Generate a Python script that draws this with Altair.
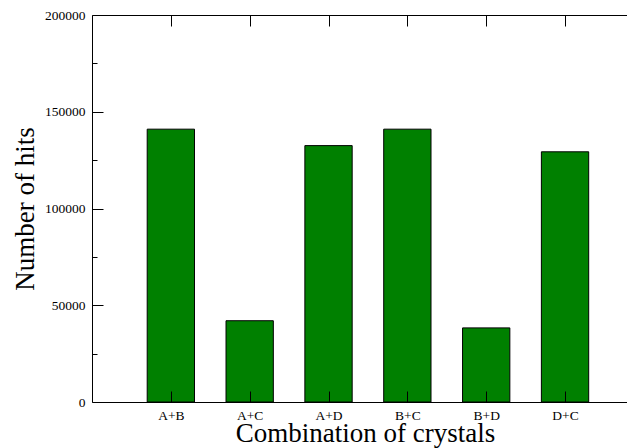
import json
import altair as alt
import pandas as pd

# ---- data ----
categories = ["A+B", "A+C", "A+D", "B+C", "B+D", "D+C"]
hits = [141000, 42000, 132500, 141000, 38300, 129300]
y_major = [0, 50000, 100000, 150000, 200000]
y_minor = [25000, 75000, 125000, 175000]
x_positions = [1, 2, 3, 4, 5, 6]

df = pd.DataFrame({"combo": categories, "hits": hits, "pos": x_positions})

FONT = "Liberation Serif"
W, H = 535, 387
SPACING = 78.84
XMAX = W / SPACING

xscale = alt.Scale(domain=[0, XMAX], nice=False, zero=False)
yscale = alt.Scale(domain=[0, 200000], nice=False, zero=True)

x_label_expr = json.dumps(categories) + "[datum.value - 1]"

base = alt.Chart(df).transform_calculate(
    x0="datum.pos - 0.3", x1="datum.pos + 0.3", base0="0"
)

bars = base.mark_bar(color="#008000", stroke="black", strokeWidth=1).encode(
    x=alt.X(
        "x0:Q",
        scale=xscale,
        axis=alt.Axis(
            orient="bottom",
            values=x_positions,
            labelExpr=x_label_expr,
            tickSize=alt.ExprRef(expr="-11"),
            tickColor="black",
            tickWidth=1,
            domainColor="black",
            domainWidth=1,
            labelFont=FONT,
            labelFontSize=13.5,
            labelColor="black",
            labelPadding=17,
            labelFlush=False,
            labelOverlap=False,
            grid=False,
            zindex=1,
            title="Combination of crystals",
            titleFont=FONT,
            titleFontSize=27,
            titleFontWeight="normal",
            titleColor="black",
            titleX=273,
            titleY=39,
            titleAlign="center",
            titleBaseline="alphabetic",
        ),
    ),
    x2="x1:Q",
    y=alt.Y(
        "hits:Q",
        scale=yscale,
        axis=alt.Axis(
            orient="left",
            values=y_major + y_minor,
            labelExpr="datum.value % 50000 === 0 ? format(datum.value, 'd') : ''",
            tickSize=alt.ExprRef(expr="datum.value % 50000 === 0 ? -11 : -5"),
            tickColor="black",
            tickWidth=1,
            domainColor="black",
            domainWidth=1,
            labelFont=FONT,
            labelFontSize=13.5,
            labelColor="black",
            labelPadding=18,
            labelFlush=False,
            labelOverlap=False,
            grid=False,
            zindex=1,
            title="Number of hits",
            titleFont=FONT,
            titleFontSize=27,
            titleFontWeight="normal",
            titleColor="black",
            titleAngle=270,
            titleX=-59,
            titleY=193.5,
            titleAlign="center",
            titleBaseline="alphabetic",
        ),
    ),
    y2="base0:Q",
)

frame = base.mark_bar(opacity=0).encode(
    x=alt.X(
        "x0:Q",
        scale=xscale,
        axis=alt.Axis(
            orient="top",
            values=x_positions,
            labels=False,
            tickSize=alt.ExprRef(expr="-11"),
            tickColor="black",
            tickWidth=1,
            domainColor="black",
            domainWidth=1,
            grid=False,
            zindex=1,
            title=None,
        ),
    ),
    x2="x1:Q",
    y=alt.Y("hits:Q", scale=yscale, axis=None),
    y2="base0:Q",
)

chart = (
    alt.layer(bars, frame)
    .resolve_axis(x="independent", y="independent")
    .properties(
        width=W,
        height=H,
        autosize=alt.AutoSizeParams(type="none"),
        padding={"left": 84, "top": 7, "right": 0, "bottom": 46},
        background="white",
    )
    .configure_view(strokeWidth=0, stroke="transparent")
)

chart.save("out.html", embed_options={"renderer": "svg", "actions": False})
